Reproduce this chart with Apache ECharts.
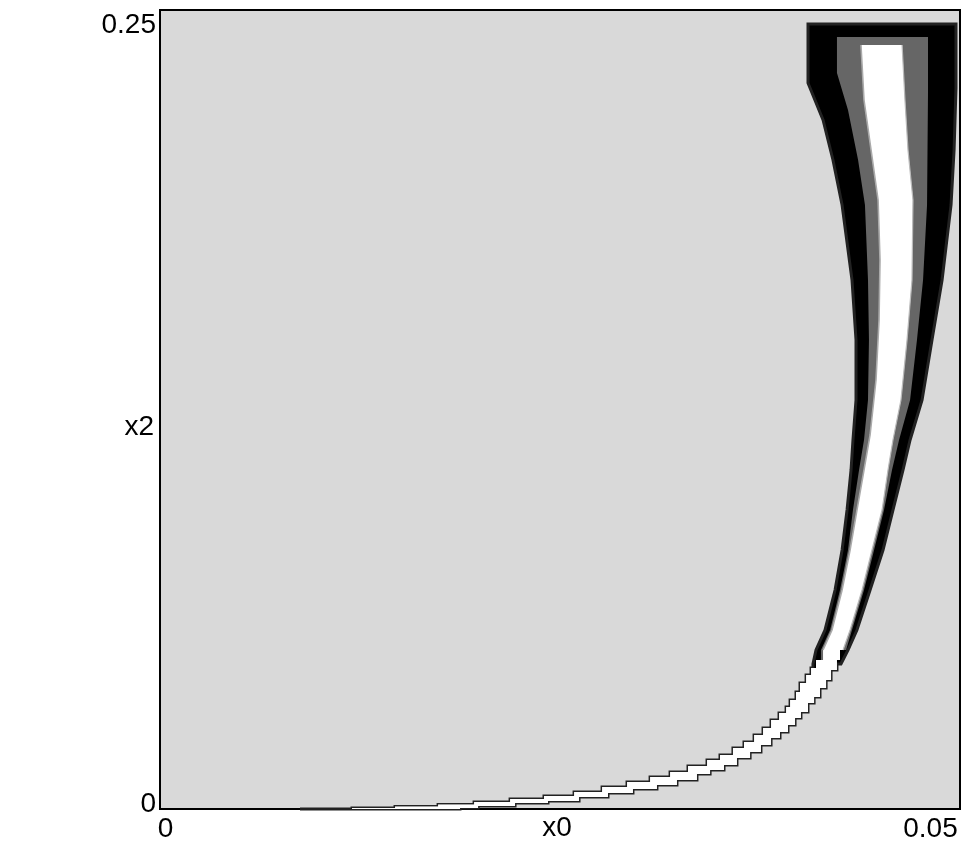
<!DOCTYPE html>
<html>
<head>
<meta charset="utf-8">
<script src="https://cdn.jsdelivr.net/npm/echarts@6/dist/echarts.min.js"></script>
<style>
body { margin: 0; background: #fff; }
#main { width: 970px; height: 850px; }
</style>
</head>
<body>
<div id="main"></div>
<script>
var xTicks = [0, 0.05];
var xTickLabels = ['0', '0.05'];
var yTicks = [0, 0.25];
var yTickLabels = ['0', '0.25'];

// region edges, [x0, x2], top -> bottom
var blackLeft = [[0.04050, 0.24562], [0.04050, 0.22716], [0.04144, 0.21558], [0.04206, 0.20307], [0.04263, 0.18899],
  [0.04325, 0.16552], [0.04350, 0.14675], [0.04350, 0.12797], [0.04331, 0.11546], [0.04319, 0.10607],
  [0.04294, 0.09355], [0.04263, 0.08104], [0.04219, 0.06852], [0.04156, 0.05601], [0.04100, 0.04975],
  [0.04081, 0.04537]];
var blackRight = [[0.04975, 0.24562], [0.04975, 0.22559], [0.04963, 0.20620], [0.04944, 0.18899], [0.04888, 0.16552],
  [0.04825, 0.14675], [0.04763, 0.12797], [0.04688, 0.11546], [0.04644, 0.10607], [0.04581, 0.09355],
  [0.04519, 0.08104], [0.04438, 0.06852], [0.04356, 0.05601], [0.04300, 0.04975], [0.04256, 0.04537]];

var grayLeft = [[0.04231, 0.24155], [0.04231, 0.23029], [0.04300, 0.21871], [0.04363, 0.20307], [0.04406, 0.18899],
  [0.04425, 0.16552], [0.04431, 0.14675], [0.04425, 0.12797], [0.04400, 0.11546], [0.04369, 0.10607],
  [0.04331, 0.09355], [0.04300, 0.08104], [0.04250, 0.06852], [0.04188, 0.05601], [0.04131, 0.04975]];
var grayRight = [[0.04800, 0.24155], [0.04800, 0.22403], [0.04794, 0.18899], [0.04769, 0.16552], [0.04731, 0.14675],
  [0.04688, 0.12797], [0.04619, 0.11546], [0.04575, 0.10607], [0.04525, 0.09355], [0.04463, 0.08104],
  [0.04400, 0.06852], [0.04325, 0.05601], [0.04288, 0.04975]];

var whiteLeft = [[0.04381, 0.23905], [0.04400, 0.22184], [0.04444, 0.20620], [0.04488, 0.19055], [0.04500, 0.17178],
  [0.04494, 0.15300], [0.04475, 0.13423], [0.04438, 0.11702], [0.04400, 0.10607], [0.04356, 0.09355],
  [0.04313, 0.08104], [0.04263, 0.06852], [0.04200, 0.05601], [0.04144, 0.04975]];
var whiteRight = [[0.04638, 0.23905], [0.04656, 0.22184], [0.04675, 0.20620], [0.04706, 0.19055], [0.04700, 0.16552],
  [0.04669, 0.14675], [0.04631, 0.12797], [0.04581, 0.11546], [0.04550, 0.10607], [0.04513, 0.09355],
  [0.04450, 0.08104], [0.04388, 0.06852], [0.04313, 0.05601], [0.04269, 0.04975]];

// stepped tail: [x0 at the riser, x2 of the tread]
var upperSteps = [[0.04100, 0.04662], [0.04069, 0.04412], [0.04038, 0.04193], [0.04000, 0.03942], [0.03975, 0.03661],
  [0.03938, 0.03411], [0.03913, 0.03192], [0.03869, 0.03004], [0.03819, 0.02785], [0.03769, 0.02534],
  [0.03713, 0.02315], [0.03650, 0.02096], [0.03581, 0.01909], [0.03500, 0.01690], [0.03419, 0.01533],
  [0.03300, 0.01345], [0.03188, 0.01158], [0.03063, 0.01001], [0.02919, 0.00845], [0.02763, 0.00688],
  [0.02588, 0.00532], [0.02400, 0.00407], [0.02188, 0.00313], [0.01963, 0.00219], [0.01738, 0.00141],
  [0.01469, 0.00078], [0.01200, 0.00031], [0.00875, 0]];
var lowerSteps = [[0.04250, 0.04662], [0.04231, 0.04349], [0.04194, 0.04036], [0.04163, 0.03786], [0.04125, 0.03504],
  [0.04088, 0.03317], [0.04050, 0.03035], [0.04006, 0.02847], [0.03969, 0.02628], [0.03925, 0.02409],
  [0.03875, 0.02222], [0.03819, 0.02003], [0.03756, 0.01783], [0.03688, 0.01596], [0.03606, 0.01377],
  [0.03525, 0.01220], [0.03438, 0.01095], [0.03356, 0.00907], [0.03231, 0.00751], [0.03106, 0.00626],
  [0.02956, 0.00501], [0.02800, 0.00375], [0.02619, 0.00250], [0.02425, 0.00188], [0.02219, 0.00094],
  [0.01988, 0.00031], [0.01875, 0]];

function upperPath(start, steps) {
  var out = [], px = start[0];
  steps.forEach(function (s) {
    if (s[1] >= start[1]) return;
    out.push([px, s[1]], [s[0], s[1]]);
    px = s[0];
  });
  return out;
}

function lowerPath(start, steps) {
  var out = [], py = start[1];
  steps.forEach(function (s) {
    if (s[1] >= start[1]) return;
    out.push([s[0], py], [s[0], s[1]]);
    py = s[1];
  });
  return out;
}

function region(left, right) {
  var up = upperPath(left[left.length - 1], upperSteps);
  var low = lowerPath(right[right.length - 1], lowerSteps).reverse();
  return left.concat(up, low, right.slice().reverse());
}

function shapeSeries(kind, points, style, z) {
  return {
    type: 'custom',
    coordinateSystem: 'cartesian2d',
    silent: true,
    z: z,
    data: [[0, 0]],
    renderItem: function (params, api) {
      var pts = points.map(function (p) { return api.coord(p); });
      return { type: kind, shape: { points: pts }, style: style };
    }
  };
}

var font = 'Liberation Sans, Arial, Helvetica, sans-serif';
var fs = 28;
var myChart = echarts.init(document.getElementById('main'));

var option = {
  animation: false,
  grid: {
    show: true,
    left: 160, top: 10, width: 800, height: 799,
    outerBoundsMode: 'none',
    containLabel: false,
    backgroundColor: '#d9d9d9',
    borderColor: '#000',
    borderWidth: 2
  },
  xAxis: {
    type: 'value', min: 0, max: 0.05, interval: 0.05,
    axisLine: { show: false }, axisTick: { show: false }, splitLine: { show: false },
    axisLabel: {
      margin: 6, color: '#000', fontSize: fs, fontFamily: font,
      formatter: function (v) {
        return Math.abs(v - xTicks[0]) < 1e-9 ? '{l|' + xTickLabels[0] + '}' : '{r|' + xTickLabels[1] + '}';
      },
      rich: {
        l: { fontSize: fs, fontFamily: font, color: '#000', padding: [0, 0, 0, 11] },
        r: { fontSize: fs, fontFamily: font, color: '#000', padding: [0, 59, 0, 0] }
      }
    },
    name: 'x0', nameLocation: 'middle', nameGap: 5, nameMoveOverlap: false,
    nameTextStyle: { fontSize: fs, color: '#000', fontFamily: font, verticalAlign: 'top', padding: [0, 6, 0, 0] }
  },
  yAxis: {
    type: 'value', min: 0, max: 0.25, interval: 0.25,
    axisLine: { show: false }, axisTick: { show: false }, splitLine: { show: false },
    axisLabel: {
      margin: 4, color: '#000', fontSize: fs, fontFamily: font,
      formatter: function (v) {
        return Math.abs(v - yTicks[0]) < 1e-9 ? '{lo|' + yTickLabels[0] + '}' : '{hi|' + yTickLabels[1] + '}';
      },
      rich: {
        lo: { fontSize: fs, fontFamily: font, color: '#000', padding: [0, 0, 9, 0] },
        hi: { fontSize: fs, fontFamily: font, color: '#000', padding: [31, 0, 0, 0] }
      }
    },
    name: 'x2', nameLocation: 'middle', nameRotate: 0, nameGap: 6, nameMoveOverlap: false,
    nameTextStyle: { fontSize: fs, color: '#000', fontFamily: font, align: 'right', verticalAlign: 'top', padding: [4, 0, 0, 0] }
  },
  series: [
    shapeSeries('polygon', region(blackLeft, blackRight), { fill: '#000', stroke: '#222', lineWidth: 3, lineJoin: 'miter' }, 2),
    shapeSeries('polygon', region(grayLeft, grayRight), { fill: '#666', stroke: null }, 3),
    shapeSeries('polygon', region(whiteLeft, whiteRight), { fill: '#fff', stroke: null }, 4),
    shapeSeries('polyline', whiteLeft, { fill: null, stroke: '#aaa', lineWidth: 1.6 }, 5),
    shapeSeries('polyline', whiteRight, { fill: null, stroke: '#bbb', lineWidth: 1.2 }, 5)
  ]
};
myChart.setOption(option);
</script>
</body>
</html>
